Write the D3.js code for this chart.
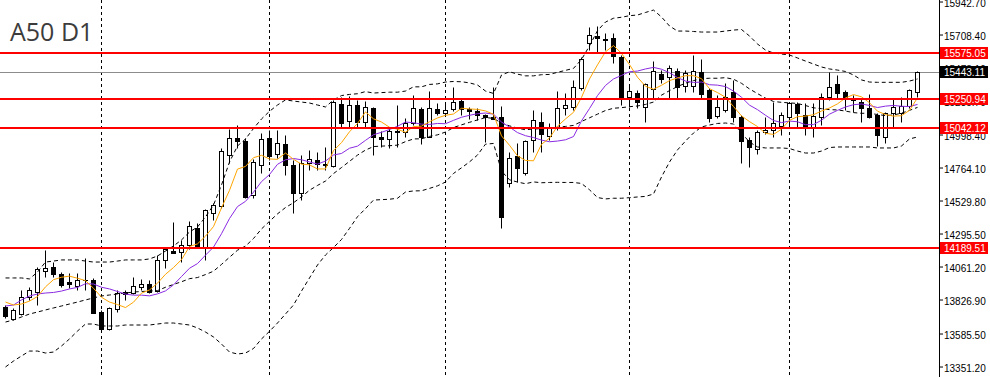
<!DOCTYPE html>
<html>
<head>
<meta charset="utf-8">
<script src="https://cdn.jsdelivr.net/npm/d3@7"></script>
<style>
  body { margin: 0; background: #fff; }
  svg { display: block; }
</style>
</head>
<body>
<script>
// daily candles, oldest first
const open  = [13776,13689,13724,13847,13880,14032,14056,14008,13953,13925,13962,13966,13740,13616,13758,13878,13871,13918,13935,13890,
               14108,14171,14166,14214,14333,14198,14443,14491,14853,14972,14955,14569,14782,14972,14858,14931,14782,14581,14798,14818,
               14779,14777,15213,15097,15206,15087,15185,14983,14965,15013,15018,15082,15182,14983,15182,15153,15178,15239,15178,15165,
               15137,15125,15121,14656,14846,14723,14960,15085,14988,15043,15185,15196,15327,15650,15698,15671,15682,15547,15267,15291,
               15196,15320,15428,15409,15447,15343,15343,15444,15315,15130,15173,15302,15125,14960,14894,15018,15031,15059,15125,15215,
               15137,15054,15125,15263,15355,15298,15240,15231,15185,15137,14979,15149,15149,15201,15302];
const high  = [13788,13765,13895,13918,14058,14179,14095,14024,14013,14013,14120,13978,13753,13776,13895,13895,13985,13971,13966,14143,
               14202,14379,14250,14387,14372,14470,14510,14901,15036,15066,14972,14823,15007,15031,15031,14995,14818,14853,14889,14876,
               14912,15244,15267,15272,15244,15239,15196,15026,15054,15208,15114,15279,15196,15310,15220,15215,15334,15256,15196,15185,
               15141,15334,15201,14876,14936,14960,15173,15160,15078,15310,15291,15386,15551,15764,15769,15721,15717,15563,15350,15315,
               15362,15520,15457,15492,15469,15457,15563,15533,15327,15279,15362,15386,15137,14983,15031,15121,15231,15160,15231,15231,
               15220,15220,15291,15444,15421,15315,15279,15256,15284,15149,15160,15256,15267,15320,15449];
const low   = [13694,13682,13717,13824,13788,13989,13989,13918,13907,13895,13895,13729,13606,13611,13740,13824,13866,13895,13871,13882,
               14049,14155,14095,14184,14191,14108,14392,14475,14794,14901,14551,14546,14723,14818,14830,14711,14439,14534,14747,14747,
               14747,14770,15054,15043,15043,15043,14853,14912,14905,14912,14983,15066,14931,14979,15137,15137,15168,15137,15109,15102,
               14947,15107,14337,14624,14663,14711,14876,14876,14960,15031,15137,15173,15315,15599,15586,15599,15504,15208,15196,15185,
               15089,15249,15362,15249,15249,15302,15302,15249,15089,15114,15160,15089,14794,14766,14860,14999,14983,14995,15054,15054,
               14995,14983,15066,15244,15256,15173,15160,15089,15119,14919,14940,15043,15089,15185,15267];
const close = [13710,13753,13843,13895,14044,14051,14006,13930,13935,13966,13969,13733,13616,13765,13871,13866,13923,13935,13882,14108,
               14184,14159,14214,14349,14202,14463,14495,14881,14972,14955,14557,14805,14965,14846,14936,14782,14581,14794,14823,14789,
               14786,15227,15082,15206,15087,15192,14983,14965,15023,15020,15078,15187,14979,15185,15153,15173,15231,15182,15163,15135,
               15121,15111,14415,14830,14759,14955,15102,15000,15050,15185,15206,15338,15533,15705,15682,15677,15556,15256,15305,15231,
               15355,15452,15395,15469,15334,15433,15452,15286,15114,15196,15267,15125,14955,14908,15018,15031,15082,15137,15224,15149,
               15054,15130,15267,15334,15295,15267,15247,15185,15125,14995,15149,15192,15201,15315,15443.11];

// moving averages
const maFast = [13809,13788,13795,13816,13848,13917,13968,13985,13993,13978,13961,13907,13843,13809,13791,13770,13808,13872,13895,13943,
                14006,14054,14110,14203,14222,14277,14345,14478,14602,14753,14772,14834,14851,14825,14822,14867,14822,14788,14783,14754,
                14754,14884,14941,15018,15077,15159,15110,15087,15050,15036,15014,15055,15058,15089,15116,15135,15144,15185,15180,15177,
                15166,15142,14989,14922,14847,14814,14812,14929,14973,15058,15109,15156,15262,15393,15493,15586,15630,15575,15495,15405,
                15341,15320,15348,15381,15400,15416,15416,15395,15324,15296,15263,15197,15131,15090,15055,15007,14999,15036,15099,15125,
                15129,15139,15165,15187,15216,15258,15282,15266,15224,15164,15140,15129,15132,15170,15259];
const maSlow = [13781,13788,13824,13852,13866,13873,13877,13887,13902,13913,13939,13937,13914,13902,13884,13865,13858,13858,13853,13867,
                13888,13931,13990,14049,14082,14142,14199,14294,14402,14487,14524,14589,14664,14714,14787,14819,14828,14819,14804,14788,
                14810,14853,14864,14901,14916,14957,14997,15014,15034,15057,15087,15082,15072,15070,15077,15075,15099,15121,15135,15146,
                15151,15143,15087,15051,15012,14990,14977,14959,14947,14952,14961,14984,15095,15183,15275,15347,15393,15418,15444,15449,
                15464,15475,15462,15437,15403,15378,15368,15371,15352,15349,15339,15307,15263,15207,15175,15135,15098,15083,15094,15089,
                15068,15069,15100,15143,15170,15194,15210,15215,15205,15190,15200,15205,15199,15197,15212];

// bollinger bands
const bbUpper = [13980,13980,13980,13973,14022,14093,14100,14108,14108,14108,14100,14093,14093,14093,14100,14108,14108,14108,14115,14136,
                 14171,14207,14250,14306,14342,14413,14498,14640,14803,14917,14967,15041,15109,15163,15208,15244,15236,15229,15222,15208,
                 15194,15244,15275,15283,15288,15303,15293,15296,15299,15299,15307,15337,15337,15354,15358,15371,15375,15373,15365,15350,
                 15307,15290,15421,15444,15427,15415,15415,15423,15425,15440,15454,15468,15531,15628,15736,15797,15824,15831,15842,15847,
                 15865,15882,15833,15769,15733,15733,15730,15726,15726,15726,15733,15740,15744,15698,15641,15598,15577,15570,15563,15542,
                 15520,15499,15478,15464,15456,15446,15421,15386,15371,15369,15369,15369,15369,15378,15393];
const bbMid   = [13667,13682,13703,13724,13738,13753,13767,13781,13795,13809,13824,13838,13852,13859,13866,13873,13880,13884,13887,13890,
                 13914,13934,13953,13975,13983,14004,14028,14076,14127,14177,14206,14260,14328,14382,14435,14480,14514,14556,14603,14637,
                 14668,14721,14764,14808,14852,14888,14913,14916,14919,14923,14948,14967,14968,14985,14996,15016,15048,15067,15085,15102,
                 15119,15113,15080,15060,15044,15032,15038,15040,15041,15050,15056,15063,15091,15117,15143,15169,15185,15189,15196,15201,
                 15212,15229,15278,15310,15339,15363,15381,15395,15398,15398,15402,15391,15362,15322,15289,15257,15233,15227,15223,15219,
                 15204,15188,15182,15175,15173,15165,15154,15149,15150,15140,15133,15137,15150,15170,15191];
const bbLower = [13348,13390,13426,13461,13461,13447,13454,13497,13547,13603,13653,13653,13639,13639,13639,13646,13646,13646,13646,13653,
                 13660,13660,13653,13646,13625,13596,13561,13511,13454,13440,13447,13479,13547,13601,13660,13724,13788,13887,13980,14072,
                 14143,14196,14253,14332,14415,14472,14533,14536,14539,14546,14590,14598,14599,14616,14634,14661,14722,14762,14804,14853,
                 14930,14935,14739,14677,14661,14649,14662,14656,14658,14659,14658,14658,14651,14606,14551,14541,14546,14546,14550,14555,
                 14559,14576,14697,14803,14889,14952,15009,15052,15066,15077,15080,15073,15009,14945,14910,14903,14903,14903,14899,14881,
                 14867,14867,14881,14906,14910,14910,14910,14910,14910,14903,14903,14903,14917,14967,14981];

const levels = [15575.05, 15250.94, 15042.12, 14189.51];
const bid = 15443.11;
const monthStarts = [12, 33, 55, 78, 98];
const priceTicks = [15942.70, 15708.40, 15473.10, 15235.70, 14998.40, 14764.10, 14529.80, 14295.50, 14061.20, 13826.90, 13585.50, 13351.20];

const w = 990, h = 377;
const axisX = 939;

const x = d3.scaleLinear().domain([0, open.length - 1]).range([5, 917]);
const y = d3.scaleLinear().domain([13276.8, 15953.5]).range([h, 0]);
const fmt = d3.format(".2f");

const svg = d3.select("body").append("svg")
  .attr("width", w)
  .attr("height", h);

// month separators
svg.selectAll(".vgrid")
  .data(monthStarts)
  .enter()
  .append("line")
  .attr("x1", d => Math.round(x(d)) + 0.5)
  .attr("x2", d => Math.round(x(d)) + 0.5)
  .attr("y1", 0)
  .attr("y2", h)
  .attr("stroke", "#000")
  .attr("stroke-dasharray", "3,3");

// bid line
svg.append("line")
  .attr("x1", 0).attr("x2", axisX)
  .attr("y1", Math.round(y(bid)) + 0.5)
  .attr("y2", Math.round(y(bid)) + 0.5)
  .attr("stroke", "#8c8c8c");

// candles
const idx = d3.range(open.length);
const candle = svg.selectAll(".candle")
  .data(idx)
  .enter()
  .append("g");

candle.append("line")
  .attr("x1", i => Math.round(x(i)) + 0.5)
  .attr("x2", i => Math.round(x(i)) + 0.5)
  .attr("y1", i => Math.round(y(high[i])) + 0.5)
  .attr("y2", i => Math.round(y(low[i])) + 0.5)
  .attr("stroke", "#000");

candle.each(function(i) {
  const g = d3.select(this);
  const cx = Math.round(x(i));
  const top = Math.round(y(Math.max(open[i], close[i])));
  const bot = Math.round(y(Math.min(open[i], close[i])));
  if (bot - top < 1) {
    g.append("line")
      .attr("x1", cx - 2).attr("x2", cx + 3)
      .attr("y1", top + 0.5).attr("y2", top + 0.5)
      .attr("stroke", "#000");
  } else {
    g.append("rect")
      .attr("x", cx - 1.5)
      .attr("y", top + 0.5)
      .attr("width", 4)
      .attr("height", bot - top)
      .attr("fill", close[i] >= open[i] ? "#fff" : "#000")
      .attr("stroke", "#000");
  }
});

// indicators
const line = d3.line()
  .x((d, i) => x(i) + 0.5)
  .y(d => y(d));

[bbUpper, bbMid, bbLower].forEach(band => {
  svg.append("path")
    .attr("d", line(band))
    .attr("fill", "none")
    .attr("stroke", "#000")
    .attr("stroke-dasharray", "4,3");
});

svg.append("path")
  .attr("d", line(maSlow))
  .attr("fill", "none")
  .attr("stroke", "#8a2be2");

svg.append("path")
  .attr("d", line(maFast))
  .attr("fill", "none")
  .attr("stroke", "#ffa500");

// price axis
const yAxis = d3.axisRight(y)
  .tickValues(priceTicks)
  .tickFormat(fmt)
  .tickSize(4)
  .tickSizeOuter(0)
  .tickPadding(1);

const ax = svg.append("g")
  .attr("transform", "translate(" + axisX + ",0)")
  .call(yAxis);
ax.select(".domain").attr("d", "M0.5,0V" + h);
ax.selectAll("text")
  .attr("dy", "0.45em")
  .attr("font-family", "Liberation Sans, Arial, sans-serif")
  .attr("font-size", 10)
  .attr("fill", "#000");

// horizontal levels
svg.selectAll(".level")
  .data(levels)
  .enter()
  .append("line")
  .attr("x1", 0).attr("x2", axisX)
  .attr("y1", d => Math.round(y(d)))
  .attr("y2", d => Math.round(y(d)))
  .attr("stroke", "#ff0000")
  .attr("stroke-width", 2);

const tags = levels.map(v => ({v: v, bg: "#ff0000"})).concat([{v: bid, bg: "#000"}]);
const tag = svg.selectAll(".tag")
  .data(tags)
  .enter()
  .append("g")
  .attr("transform", d => "translate(" + (axisX + 1) + "," + Math.round(y(d.v)) + ")");
tag.append("rect")
  .attr("x", 0).attr("y", -6)
  .attr("width", 48).attr("height", 12)
  .attr("fill", d => d.bg);
tag.append("text")
  .attr("x", 4).attr("y", 4)
  .attr("font-family", "Liberation Sans, Arial, sans-serif")
  .attr("font-size", 10)
  .attr("fill", "#fff")
  .text(d => fmt(d.v));

// title
svg.append("text")
  .attr("x", 10).attr("y", 41)
  .attr("font-family", "Open Sans, sans-serif")
  .attr("font-size", 25)
  .attr("fill", "#3c3c3c")
  .text("A50 D1");
</script>
</body>
</html>
